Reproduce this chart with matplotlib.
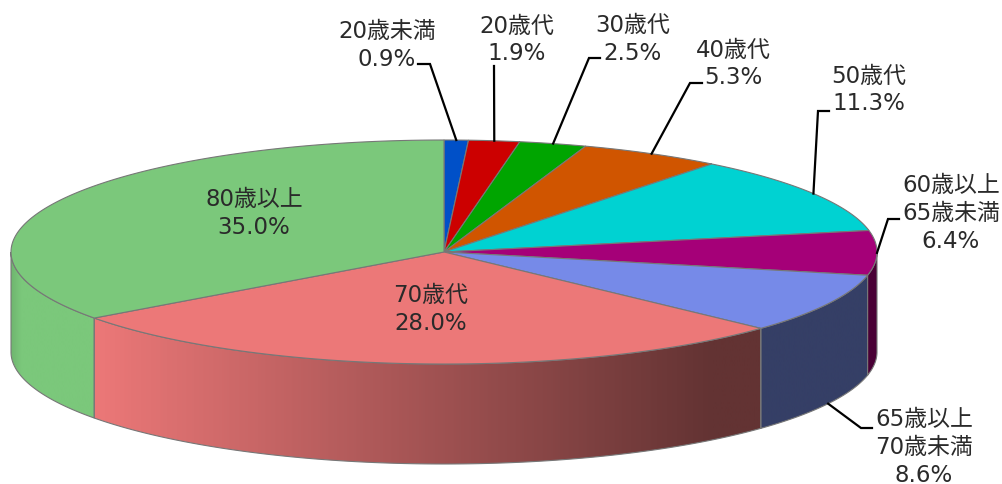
import numpy as np
import matplotlib
matplotlib.use("Agg")
import matplotlib.pyplot as plt
from matplotlib.colors import LinearSegmentedColormap
from matplotlib.patches import Polygon

plt.rcParams['font.family'] = ['DejaVu Sans', 'Noto Sans CJK JP']

categories = ["20歳未満", "20歳代", "30歳代", "40歳代", "50歳代",
              "60歳以上\n65歳未満", "65歳以上\n70歳未満", "70歳代", "80歳以上"]
values = [0.9, 1.9, 2.5, 5.3, 11.3, 6.4, 8.6, 28.0, 35.0]
top_colors = ['#0050C8', '#CC0000', '#00A500', '#D05500', '#00D2D2',
              '#A50078', '#768AE8', '#EC7878', '#7BC87B']
side_colors = {5: ('#4A0036', '#4A0036'), 6: ('#353F66', '#353F66'),
               7: ('#EC7878', '#633333'), 8: ('#6FB56F', '#7BC87B')}

cx, cy, a, b, depth = 444, 252, 433, 112, 100
edge = '#777777'

# where each label line goes: centre x, first line y, leader points
label_pos = [(387, 31, [(418, 64), (430, 64)]),
             (517, 26, [(494, 66)]),
             (633, 25, [(600, 58), (589, 58)]),
             (733, 50, [(702, 83), (690, 83)]),
             (869, 76, [(829, 111), (818, 111)]),
             (951, 185, [(899, 219), (888, 219)]),
             (924, 420, [(872, 428), (861, 428)]),
             (431, 295, None),
             (254, 199, None)]


def rim(deg, down=0):
    t = np.radians(deg)
    return cx + a * np.sin(t), cy - b * np.cos(t) + down


fig = plt.figure(figsize=(10.02, 4.84), dpi=100)
ax = fig.add_axes([0, 0, 1, 1])
ax.axis('off')

cum = np.cumsum([0] + values) / sum(values) * 360

# side wall, only the front half of the ellipse shows
for i in side_colors:
    t0, t1 = max(cum[i], 90), min(cum[i + 1], 270)
    ts = np.linspace(t0, t1, 200)
    x, y = rim(ts)
    x2, y2 = rim(ts[::-1], depth)
    pts = np.column_stack([np.r_[x, x2], np.r_[y, y2]])
    left, right = pts[:, 0].min(), pts[:, 0].max()
    cmap = LinearSegmentedColormap.from_list('s', side_colors[i])
    ramp = np.linspace(0, 1, 256).reshape(1, -1)
    if i == 8:
        # only the far left edge of the green wall is a bit darker
        ramp = np.clip(ramp * 8, 0, 1)
    if i == 7:
        # the red wall is flat dark over its last stretch
        ramp = np.clip(ramp / 0.93, 0, 1)
    im = ax.imshow(ramp, cmap=cmap, vmin=0, vmax=1, aspect='auto',
                   extent=[left, right, 484, 0], zorder=1)
    poly = Polygon(pts, closed=True, fc='none', ec=edge, lw=0.8, zorder=2)
    ax.add_patch(poly)
    im.set_clip_path(poly)

# top face
for i, col in enumerate(top_colors):
    ts = np.linspace(cum[i], cum[i + 1], 200)
    x, y = rim(ts)
    pts = np.column_stack([np.r_[cx, x], np.r_[cy, y]])
    ax.add_patch(Polygon(pts, closed=True, fc=col, ec=edge, lw=0.8, zorder=3))

# labels and leader lines
for i, (name, (lx, ly, lead)) in enumerate(zip(categories, label_pos)):
    lines = name.split("\n") + ["%.1f%%" % values[i]]
    for j, s in enumerate(lines):
        ax.text(lx, ly + j * 28, s, ha='center', va='center', fontsize=16.5,
                color='#2a2a2a', zorder=5)
    if lead:
        mid = (cum[i] + cum[i + 1]) / 2
        # the wall only hides the rim well past the right edge
        down = depth if 100 < mid < 260 else 0
        ex, ey = rim(mid, down)
        px = [p[0] for p in lead] + [ex]
        py = [p[1] for p in lead] + [ey]
        ax.plot(px, py, color='black', lw=1.6, zorder=4, solid_joinstyle='miter')

ax.set_xlim(0, 1002)
ax.set_ylim(484, 0)
fig.savefig('out.png', dpi=100)
